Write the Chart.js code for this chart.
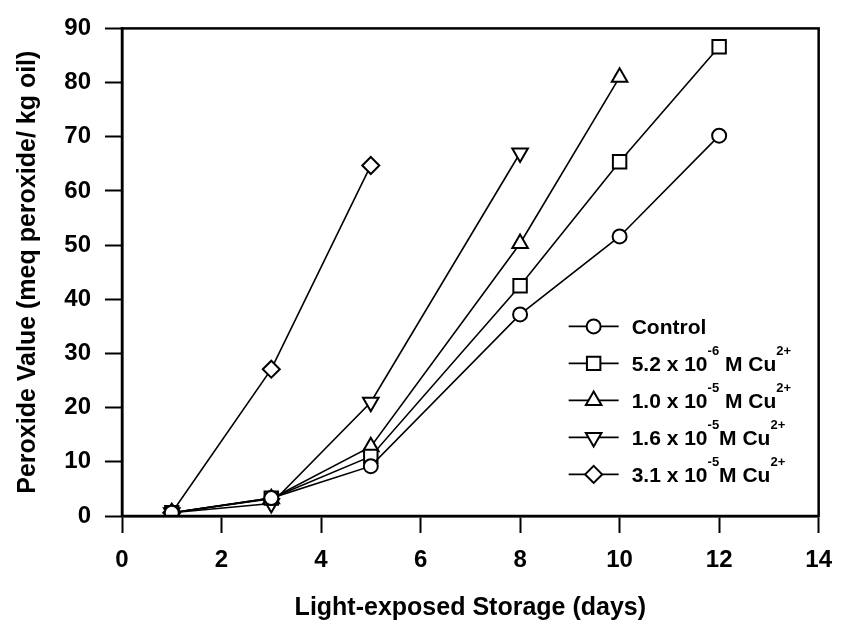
<!DOCTYPE html>
<html>
<head>
<meta charset="utf-8">
<script src="https://cdn.jsdelivr.net/npm/chart.js@4"></script>
<style>
  body { margin: 0; background: #fff; }
  #wrap { width: 845px; height: 629px; }
</style>
</head>
<body>
<div id="wrap"><canvas id="peroxideChart" width="845" height="629"></canvas></div>
<script>
// storage days for each series
const daysControl = [1, 3, 5, 8, 10, 12];
const days52e6 = [1, 3, 5, 8, 10, 12];
const days10e5 = [1, 3, 5, 8, 10];
const days16e5 = [1, 3, 5, 8];
const days31e5 = [1, 3, 5];

// peroxide values (meq peroxide / kg oil)
const pvControl = [0.6, 3.3, 9.2, 37.2, 51.6, 70.2];
const pv52e6 = [0.6, 3.3, 11.0, 42.5, 65.4, 86.6];
const pv10e5 = [0.6, 3.2, 12.8, 50.3, 81.0];
const pv16e5 = [0.6, 2.3, 21.0, 67.0];
const pv31e5 = [0.6, 27.1, 64.7];

// legend labels, ^{...} marks superscript
const seriesLabels = [
  'Control',
  '5.2 x 10^{-6} M Cu^{2+}',
  '1.0 x 10^{-5} M Cu^{2+}',
  '1.6 x 10^{-5}M Cu^{2+}',
  '3.1 x 10^{-5}M Cu^{2+}'
];

const xTicks = [0, 2, 4, 6, 8, 10, 12, 14];
const yTicks = [0, 10, 20, 30, 40, 50, 60, 70, 80, 90];

const FONT = "'Liberation Sans', Arial, sans-serif";

function toPoints(xs, ys) {
  return xs.map((x, i) => ({ x: x, y: ys[i] }));
}

function makeSet(label, xs, ys, style, radius, rotation) {
  return {
    label: label,
    data: toPoints(xs, ys),
    showLine: true,
    borderColor: '#000',
    borderWidth: 1.6,
    backgroundColor: '#fff',
    pointStyle: style,
    pointRadius: radius,
    pointRotation: rotation || 0,
    pointBorderWidth: 2,
    pointBorderColor: '#000',
    pointBackgroundColor: '#fff'
  };
}

// draw a label, switching to small raised text inside ^{...}
function drawRichText(ctx, text, x, y, size) {
  const parts = text.split(/(\^\{[^}]*\})/);
  parts.forEach(p => {
    if (!p) return;
    if (p.startsWith('^{')) {
      const s = p.slice(2, -1);
      ctx.font = 'bold ' + Math.round(size * 0.62) + 'px ' + FONT;
      ctx.fillText(s, x, y - size * 0.8);
      x += ctx.measureText(s).width;
    } else {
      ctx.font = 'bold ' + size + 'px ' + FONT;
      ctx.fillText(p, x, y);
      x += ctx.measureText(p).width;
    }
  });
}

// box round the plot area
const frame = {
  id: 'frame',
  afterDraw(chart) {
    const { ctx, chartArea: a } = chart;
    ctx.save();
    ctx.strokeStyle = '#000';
    ctx.lineWidth = 2.5;
    ctx.strokeRect(a.left, a.top, a.right - a.left, a.bottom - a.top);
    ctx.restore();
  }
};

// legend sits inside the plot, lower right
const insideLegend = {
  id: 'insideLegend',
  afterDraw(chart) {
    const { ctx, chartArea: a } = chart;
    const cx = a.right - 225;
    chart.data.datasets.forEach((ds, i) => {
      const y = a.top + 298 + i * 37;
      ctx.save();
      ctx.strokeStyle = '#000';
      ctx.lineWidth = 1.6;
      ctx.beginPath();
      ctx.moveTo(cx - 25, y);
      ctx.lineTo(cx + 25, y);
      ctx.stroke();
      ctx.fillStyle = '#fff';
      ctx.lineWidth = 2;
      Chart.helpers.drawPoint(ctx, {
        pointStyle: ds.pointStyle,
        rotation: ds.pointRotation,
        radius: ds.pointRadius,
        borderWidth: 2
      }, cx, y);
      ctx.fillStyle = '#000';
      ctx.textBaseline = 'alphabetic';
      ctx.textAlign = 'left';
      drawRichText(ctx, seriesLabels[i], cx + 38, y + 8, 21);
      ctx.restore();
    });
  }
};

new Chart(document.getElementById('peroxideChart'), {
  type: 'scatter',
  data: {
    datasets: [
      makeSet(seriesLabels[0], daysControl, pvControl, 'circle', 7),
      makeSet(seriesLabels[1], days52e6, pv52e6, 'rect', 9.5),
      makeSet(seriesLabels[2], days10e5, pv10e5, 'triangle', 9),
      makeSet(seriesLabels[3], days16e5, pv16e5, 'triangle', 9, 180),
      makeSet(seriesLabels[4], days31e5, pv31e5, 'rectRot', 8.5)
    ]
  },
  options: {
    responsive: false,
    animation: false,
    layout: { padding: { top: 24, right: 23, left: 0, bottom: 0 } },
    plugins: {
      legend: { display: false },
      tooltip: { enabled: false }
    },
    scales: {
      x: {
        type: 'linear',
        min: xTicks[0],
        max: xTicks[xTicks.length - 1],
        afterBuildTicks: s => { s.ticks = xTicks.map(v => ({ value: v })); },
        afterFit: s => { s.height = 113; },
        border: { display: true, color: '#000', width: 2.5 },
        grid: { drawOnChartArea: false, tickLength: 17, tickColor: '#000', tickWidth: 2 },
        ticks: { color: '#000', padding: 13, font: { family: FONT, size: 24, weight: 'bold' } },
        title: {
          display: true,
          text: 'Light-exposed Storage (days)',
          color: '#000',
          padding: { top: 0, bottom: 6 },
          font: { family: FONT, size: 25, weight: 'bold' }
        }
      },
      y: {
        min: yTicks[0],
        max: yTicks[yTicks.length - 1],
        afterBuildTicks: s => { s.ticks = yTicks.map(v => ({ value: v })); },
        afterFit: s => { s.width = 122; },
        border: { display: true, color: '#000', width: 2.5 },
        grid: { drawOnChartArea: false, tickLength: 17, tickColor: '#000', tickWidth: 2 },
        ticks: { color: '#000', padding: 14, font: { family: FONT, size: 24, weight: 'bold' } },
        title: {
          display: true,
          text: 'Peroxide Value (meq peroxide/ kg oil)',
          color: '#000',
          padding: { top: 13, bottom: 0 },
          font: { family: FONT, size: 25, weight: 'bold' }
        }
      }
    }
  },
  plugins: [frame, insideLegend]
});
</script>
</body>
</html>
